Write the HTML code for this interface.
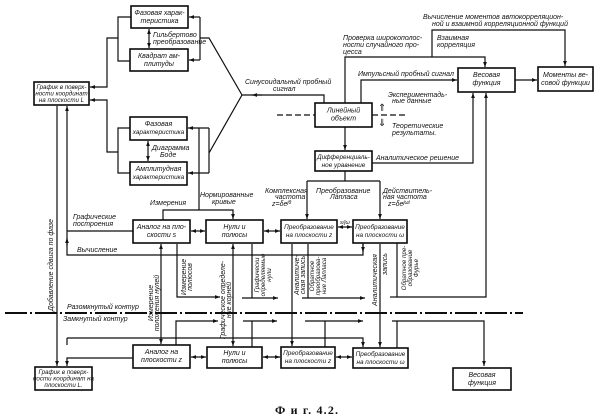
<!DOCTYPE html>
<html><head><meta charset="utf-8">
<style>
html,body{margin:0;padding:0;background:#fff;}
svg{display:block;}
text{font-family:"Liberation Sans","DejaVu Sans",sans-serif;font-style:italic;font-size:7px;fill:#111;}
.c{text-anchor:middle;}
.s{font-size:6.2px;}
.b{font-size:6.4px;}
.cap{font-family:"Liberation Serif",serif;font-style:normal;font-weight:bold;font-size:12px;}
</style></head><body>
<svg width="600" height="419" viewBox="0 0 600 419" xmlns="http://www.w3.org/2000/svg">
<defs>
<marker id="a" viewBox="0 0 8 6" refX="8" refY="3" markerWidth="5" markerHeight="4" orient="auto-start-reverse" markerUnits="userSpaceOnUse"><path d="M0,0L8,3L0,6z" fill="#111"/></marker>
</defs>
<rect width="600" height="419" fill="#fff"/>
<g fill="none" stroke="#0e0e0e" stroke-width="1.2">
<path d="M149,29V48" marker-start="url(#a)" marker-end="url(#a)"/>
<path d="M131,17H118V61H130"/>
<path d="M118,38H107V87H90" marker-end="url(#a)"/>
<path d="M200,17H189" marker-end="url(#a)"/>
<path d="M200,60H189" marker-end="url(#a)"/>
<path d="M200,17V60"/>
<path d="M200,38H209L242,95"/>
<path d="M130,128H118V173H130"/>
<path d="M118,152H107V100H90" marker-end="url(#a)"/>
<path d="M209,128H188" marker-end="url(#a)"/>
<path d="M209,173H188" marker-end="url(#a)"/>
<path d="M209,128V173"/>
<path d="M209,153L242,95"/>
<path d="M148,141V161" marker-start="url(#a)" marker-end="url(#a)"/>
<path d="M199,128V210"/>
<path d="M324,103V95H242"/>
<path d="M262,95H252" marker-end="url(#a)"/>
<path d="M277,115H315M372,115H407" stroke-dasharray="6,3"/>
<path d="M345,103V57H485V67" marker-end="url(#a)"/>
<path d="M432,57V30H565V66" marker-end="url(#a)"/>
<path d="M361,103V80H457" marker-end="url(#a)"/>
<path d="M515,80H537" marker-end="url(#a)"/>
<path d="M345,127V150" marker-end="url(#a)"/>
<path d="M372,163H473V93" marker-end="url(#a)"/>
<path d="M397,243V297H486V93" marker-end="url(#a)"/>
<path d="M390,297H397"/>
<path d="M345,171V181M307,181H380"/>
<path d="M307,181V219" marker-end="url(#a)"/>
<path d="M380,181V219" marker-end="url(#a)"/>
<path d="M191,231H205" marker-start="url(#a)" marker-end="url(#a)"/>
<path d="M264,231H280" marker-start="url(#a)" marker-end="url(#a)"/>
<path d="M338,227H352" marker-start="url(#a)" marker-end="url(#a)"/>
<path d="M163,220V210H233V219" marker-end="url(#a)"/>
<path d="M133,231H67"/>
<path d="M67,231V106" marker-end="url(#a)"/>
<path d="M363,243V255H67V231"/>
<path d="M67,246V238" marker-end="url(#a)"/>
<path d="M363,244V252" marker-end="url(#a)"/>
<path d="M57,106V366" marker-end="url(#a)"/>
<path d="M161,244V344" marker-start="url(#a)" marker-end="url(#a)"/>
<path d="M177,244V297H220" marker-end="url(#a)"/>
<path d="M233,244V346" marker-start="url(#a)" marker-end="url(#a)"/>
<path d="M252,244V298"/>
<path d="M242,298H278" marker-end="url(#a)"/>
<path d="M292,244V346" marker-end="url(#a)"/>
<path d="M308,244V298"/>
<path d="M302,298H365" marker-end="url(#a)"/>
<path d="M380,244V347" marker-end="url(#a)"/>
<path d="M5,313H523" stroke-width="1.9" stroke-dasharray="22,3,2,3"/>
<path d="M176,345V321H218" marker-end="url(#a)"/>
<path d="M252,347V321"/>
<path d="M243,321H277" marker-end="url(#a)"/>
<path d="M325,347V321"/>
<path d="M305,321H363" marker-end="url(#a)"/>
<path d="M397,348V321"/>
<path d="M392,321H484V366" marker-end="url(#a)"/>
<path d="M67,338H363V347" marker-end="url(#a)"/>
<path d="M67,338V345"/>
<path d="M133,358H67V366" marker-end="url(#a)"/>
<path d="M191,357H206" marker-start="url(#a)" marker-end="url(#a)"/>
<path d="M263,357H280" marker-start="url(#a)" marker-end="url(#a)"/>
<path d="M336,357H352" marker-start="url(#a)" marker-end="url(#a)"/>
</g>
<g fill="#fff" stroke="#0a0a0a" stroke-width="1.6">
<rect x="131" y="6" width="57" height="22"/>
<rect x="130" y="49" width="58" height="22"/>
<rect x="34" y="82" width="55" height="23"/>
<rect x="130" y="117" width="57" height="23"/>
<rect x="130" y="162" width="57" height="23"/>
<rect x="315" y="103" width="57" height="24"/>
<rect x="458" y="68" width="57" height="24"/>
<rect x="538" y="67" width="55" height="24"/>
<rect x="315" y="151" width="57" height="20"/>
<rect x="133" y="220" width="57" height="23"/>
<rect x="206" y="220" width="57" height="23"/>
<rect x="281" y="220" width="56" height="23"/>
<rect x="353" y="220" width="54" height="23"/>
<rect x="133" y="345" width="57" height="23"/>
<rect x="207" y="347" width="55" height="21"/>
<rect x="281" y="347" width="54" height="21"/>
<rect x="353" y="348" width="55" height="20"/>
<rect x="35" y="367" width="57" height="23"/>
<rect x="453" y="368" width="58" height="22"/>
</g>
<text class="c" x="159.5" y="15">Фазовая харак-</text><text class="c" x="159.5" y="23">теристика</text>
<text class="c" x="159" y="58">Квадрат ам-</text><text class="c" x="159" y="66">плитуды</text>
<text class="c s" x="61.5" y="89">График в поверх-</text><text class="c s" x="61.5" y="95.5">ности координат</text><text class="c s" x="61.5" y="102">на плоскости L</text>
<text class="c" x="158.5" y="126">Фазовая</text><text class="c b" x="158.5" y="134">характеристика</text>
<text class="c" x="158.5" y="171">Амплитудная</text><text class="c b" x="158.5" y="179">характеристика</text>
<text class="c" x="343.5" y="112.5">Линейный</text><text class="c" x="343.5" y="120.5">объект</text>
<text class="c" x="486.5" y="77">Весовая</text><text class="c" x="486.5" y="85">функция</text>
<text class="c" x="565.5" y="77">Моменты ве-</text><text class="c" x="565.5" y="85">совой функции</text>
<text class="c b" x="343.5" y="159">Дифференциаль-</text><text class="c b" x="343.5" y="167">ное уравнение</text>
<text class="c" x="161.5" y="229">Аналог на пло-</text><text class="c" x="161.5" y="237">скости s</text>
<text class="c" x="234.5" y="229">Нули и</text><text class="c" x="234.5" y="237">полюсы</text>
<text class="c b" x="309" y="229">Преобразование</text><text class="c b" x="309" y="237">на плоскости z</text>
<text class="c b" x="380" y="229">Преобразование</text><text class="c b" x="380" y="237">на плоскости ω</text>
<text class="c" x="161.5" y="354">Аналог на</text><text class="c" x="161.5" y="362">плоскости z</text>
<text class="c" x="234.5" y="355">Нули и</text><text class="c" x="234.5" y="363">полюсы</text>
<text class="c b" x="308" y="355">Преобразование</text><text class="c b" x="308" y="363">на плоскости z</text>
<text class="c b" x="380.5" y="356">Преобразование</text><text class="c b" x="380.5" y="364">на плоскости ω</text>
<text class="c s" x="63.5" y="374">График в поверх-</text><text class="c s" x="63.5" y="380.5">ности координат на</text><text class="c s" x="63.5" y="387">плоскости L.</text>
<text class="c" x="482" y="377">Весовая</text><text class="c" x="482" y="385">функция</text>
<text x="153" y="37">Гильбертово</text><text x="153" y="44">преобразование</text>
<text x="152" y="150">Диаграмма</text><text x="160" y="157">Боде</text>
<text x="245" y="84">Синусоидальный пробный</text><text x="273" y="91">сигнал</text>
<text x="343" y="40">Проверка широкополос-</text><text x="343" y="47">ности случайного про-</text><text x="343" y="54">цесса</text>
<text x="423" y="19">Вычисление моментов автокорреляцион-</text><text x="432" y="26">ной и взаимной корреляционной функций</text>
<text x="437" y="40">Взаимная</text><text x="437" y="47">корреляция</text>
<text x="358" y="76">Импульсный пробный сигнал</text>
<text x="388" y="97">Экспериментадь-</text><text x="392" y="103">ные данные</text>
<text x="392" y="128">Теоретические</text><text x="392" y="135">результаты.</text>
<text x="376" y="160">Аналитическое решение</text>
<text style="font-size:10px;font-style:normal" x="378" y="111">⇑</text>
<text style="font-size:10px;font-style:normal" x="378" y="126">⇓</text>
<text x="265" y="193">Комплексная</text><text x="275" y="199">частота</text><text x="272" y="206">z=δe<tspan dy="-2" style="font-size:5px">jθ</tspan></text>
<text x="316" y="193">Преобразование</text><text x="330" y="199">Лапласа</text>
<text x="383" y="193">Действитель-</text><text x="383" y="199">ная частота</text><text x="388" y="206">z=δe<tspan dy="-2" style="font-size:5px">jωt</tspan></text>
<text x="340" y="224" style="font-size:5.5px">s/jω</text>
<text x="150" y="205">Измерения</text>
<text x="200" y="197">Нормированные</text><text x="212" y="204">кривые</text>
<text x="73" y="219">Графические</text><text x="73" y="226">построения</text>
<text x="77" y="252">Вычисление</text>
<text x="67" y="309">Разомкнутый контур</text>
<text x="63" y="321">Замкнутый контур</text>
<text class="c" transform="translate(53,265) rotate(-90)">Добавление сдвига по фазе</text>
<text class="c" transform="translate(153,303) rotate(-90)">Измерение</text>
<text class="c" transform="translate(159,303) rotate(-90)">положения нулей</text>
<text class="c" transform="translate(186,277) rotate(-90)">Измерение</text>
<text class="c" transform="translate(192,277) rotate(-90)">полюсов</text>
<text class="c" transform="translate(225,300) rotate(-90)">Графическое определе-</text>
<text class="c" transform="translate(231,300) rotate(-90)">ние корней</text>
<text class="c s" transform="translate(259,275) rotate(-90)">Графически</text>
<text class="c s" transform="translate(265,275) rotate(-90)">определяемые</text>
<text class="c s" transform="translate(271,275) rotate(-90)">нули</text>
<text class="c" transform="translate(299,275) rotate(-90)">Аналитиче-</text>
<text class="c" transform="translate(305,275) rotate(-90)">ская запись</text>
<text class="c s" transform="translate(314,276) rotate(-90)">Обратное</text>
<text class="c s" transform="translate(320,276) rotate(-90)">преобразова-</text>
<text class="c s" transform="translate(326,276) rotate(-90)">ние Лапласа</text>
<text class="c" transform="translate(377,280) rotate(-90)">Аналитическая</text>
<text class="c" transform="translate(387,264) rotate(-90)">запись</text>
<text class="c s" transform="translate(406,268) rotate(-90)">Обратное пре-</text>
<text class="c s" transform="translate(412,268) rotate(-90)">образование</text>
<text class="c s" transform="translate(418,268) rotate(-90)">Фурье</text>
<text class="cap" x="275" y="414" textLength="63">Ф и г.   4.2.</text>
</svg>
</body></html>
